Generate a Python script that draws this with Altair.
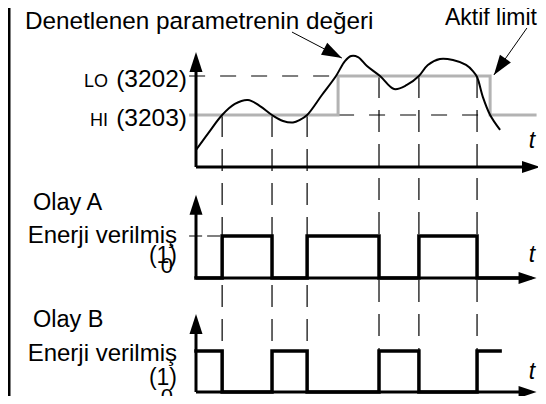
import altair as alt
import pandas as pd
import numpy as np

# ---------------- data (time t in % of the time axis, value v in arbitrary units) -----------
curve_t = [0, 3.8, 7.6, 11.3, 15.1, 18.6, 22.1, 25.3, 28.2, 30.2, 32.3, 36.6, 40.7, 43.3,
           45.1, 47.1, 49.7, 53.5, 57.6, 61.3, 64.8, 67.4, 70.9, 74.7, 78.5, 80.5, 81.7,
           83.4, 85.5, 88.4]
curve_v = [13.1, 26.9, 40, 48.5, 51.5, 46.9, 40, 35.4, 34.2, 36.2, 40, 55.4, 70, 81.5,
           85.4, 84.6, 77.7, 70, 60, 63.1, 70, 78.5, 83.1, 82.3, 78.5, 73.8, 69.2,
           53.8, 40, 28.5]
limit_t = [-2, 41.3, 85.5, 99]
limit_v = [40, 70, 40, 40]
LO_LEVEL = 70      # LO (3202)
HI_LEVEL = 40      # HI (3203)
switch_t = [7.6, 22.1, 32.3, 53.2, 64.8, 81.7]
switch_level = [HI_LEVEL, HI_LEVEL, HI_LEVEL, LO_LEVEL, LO_LEVEL, LO_LEVEL]
event_a_t = [0] + switch_t + [97]
event_a = [0, 1, 0, 1, 0, 1, 0, 0]
event_b_t = [0] + switch_t + [88.4]
event_b = [1, 0, 1, 0, 1, 0, 1, 1]
# annotation arrows (start -> tip) in data units of the top panel
ann_t0 = [27.9, 96.2]
ann_v0 = [103.8, 106.9]
ann_t1 = [42.4, 86.6]
ann_v1 = [83.8, 70.8]

FONT = "Liberation Sans"

# ---------------- scales ----------------
XS = alt.Scale(domain=[0, 100], range=[188, 532], nice=False, zero=False)
Y_TOP = alt.Scale(domain=[0, 70], range=[159, 68], nice=False, zero=False)
Y_A = alt.Scale(domain=[0, 1], range=[270, 228], nice=False, zero=False)
Y_B = alt.Scale(domain=[0, 1], range=[384, 343], nice=False, zero=False)


def X(f):
    return alt.X(f, type="quantitative", scale=XS, axis=None)


def Y(f, sc):
    return alt.Y(f, type="quantitative", scale=sc, axis=None)


RIGHT_HEAD = "M0,0L-2,-0.67L-2,0.67Z"
UP_HEAD = "M0,0L0.65,2L-0.65,2Z"

layers = []

# left border
layers.append(alt.Chart(pd.DataFrame({"a": [0]})).mark_rule(color="black", strokeWidth=3)
              .encode(x=alt.value(1), y=alt.value(0), y2=alt.value(388)))

# vertical dashed switch lines
sw = pd.DataFrame({"t": switch_t, "v": switch_level})
layers.append(alt.Chart(sw).mark_rule(color="black", strokeWidth=1.2, strokeDash=[22, 12])
              .encode(x=X("t"), y=Y("v", Y_TOP), y2=alt.value(343)))

# dashed LO / HI limit lines
lim_d = pd.DataFrame({"t0": [-2, limit_t[1]], "t1": [limit_t[1], limit_t[2]],
                      "v": [LO_LEVEL, HI_LEVEL]})
layers.append(alt.Chart(lim_d).mark_rule(color="black", strokeWidth=1.2, strokeDash=[16, 15])
              .encode(x=X("t0"), x2="t1", y=Y("v", Y_TOP)))

# dashed level line in panel A
layers.append(alt.Chart(pd.DataFrame({"t0": [-2], "t1": [switch_t[0]], "v": [1]}))
              .mark_rule(color="black", strokeWidth=1.2, strokeDash=[13, 5])
              .encode(x=X("t0"), x2="t1", y=Y("v", Y_A)))

# active limit (grey)
layers.append(alt.Chart(pd.DataFrame({"t": limit_t, "v": limit_v}))
              .mark_line(interpolate="step-after", color="#b3b3b3", strokeWidth=3)
              .encode(x=X("t"), y=Y("v", Y_TOP)))

# monitored parameter curve
layers.append(alt.Chart(pd.DataFrame({"t": curve_t, "v": curve_v}))
              .mark_line(interpolate="catmull-rom", color="black", strokeWidth=2)
              .encode(x=X("t"), y=Y("v", Y_TOP)))

# axes for each panel
for sc, ytop, tip in [(Y_TOP, 82, 88.5), (Y_A, 1.55, 1.98), (Y_B, 1.45, 1.9)]:
    xend = 100 if sc is Y_TOP else 99
    ax = pd.DataFrame({"t0": [0, 0], "t1": [xend - 4, 0], "v0": [0, 0], "v1": [0, ytop]})
    layers.append(alt.Chart(ax).mark_rule(color="black", strokeWidth=3)
                  .encode(x=X("t0"), x2="t1", y=Y("v0", sc), y2="v1"))
    layers.append(alt.Chart(pd.DataFrame({"t": [xend], "v": [0]}))
                  .mark_point(shape=RIGHT_HEAD, filled=True, size=324, color="black",
                              opacity=1, strokeWidth=0)
                  .encode(x=X("t"), y=Y("v", sc)))
    layers.append(alt.Chart(pd.DataFrame({"t": [0], "v": [tip]}))
                  .mark_point(shape=UP_HEAD, filled=True, size=400, color="black",
                              opacity=1, strokeWidth=0)
                  .encode(x=X("t"), y=Y("v", sc)))

# event traces
layers.append(alt.Chart(pd.DataFrame({"t": event_a_t, "s": event_a}))
              .mark_line(interpolate="step-after", color="black", strokeWidth=3.5,
                         strokeCap="square")
              .encode(x=X("t"), y=Y("s", Y_A)))
layers.append(alt.Chart(pd.DataFrame({"t": event_b_t, "s": event_b}))
              .mark_line(interpolate="step-after", color="black", strokeWidth=3.5,
                         strokeCap="square")
              .encode(x=X("t"), y=Y("s", Y_B)))

# annotation arrows
px_t, px_v = 3.44, 1.3
for i in range(len(ann_t0)):
    ang = float(np.degrees(np.arctan2(-(ann_v1[i] - ann_v0[i]) * px_v,
                                      (ann_t1[i] - ann_t0[i]) * px_t))) % 360
    layers.append(alt.Chart(pd.DataFrame({"t0": [ann_t0[i]], "t1": [ann_t1[i]],
                                          "v0": [ann_v0[i]], "v1": [ann_v1[i]]}))
                  .mark_rule(color="black", strokeWidth=1)
                  .encode(x=X("t0"), x2="t1", y=Y("v0", Y_TOP), y2="v1"))
    layers.append(alt.Chart(pd.DataFrame({"t": [ann_t1[i]], "v": [ann_v1[i]]}))
                  .mark_point(shape=RIGHT_HEAD, filled=True, size=400, color="black",
                              opacity=1, strokeWidth=0, angle=ang)
                  .encode(x=X("t"), y=Y("v", Y_TOP)))


def label(txt, x, y, size=23, align="left", italic=False):
    return (alt.Chart(pd.DataFrame({"s": [txt]}))
            .mark_text(font=FONT, fontSize=size, align=align, baseline="alphabetic",
                       color="black", fontStyle="italic" if italic else "normal")
            .encode(x=alt.value(x), y=alt.value(y), text="s:N"))


def level_label(txt, level, x, size, dy):
    return (alt.Chart(pd.DataFrame({"s": [txt], "v": [level]}))
            .mark_text(font=FONT, fontSize=size, align="right", baseline="alphabetic",
                       color="black", dy=dy)
            .encode(x=alt.value(x), y=Y("v", Y_TOP), text="s:N"))


layers += [
    label("Denetlenen parametrenin değeri", 17, 20.5, 24.3),
    label("Aktif limit", 437, 17, 23),
    level_label("(3202)", LO_LEVEL, 179, 24.5, 10.7),
    level_label("LO", LO_LEVEL, 100, 18, 10.7),
    level_label("(3203)", HI_LEVEL, 179, 24.5, 10.5),
    level_label("HI", HI_LEVEL, 100, 18, 10.5),
    label("t", 524, 140, 23, "center", True),
    label("Olay A", 25, 202, 23.5),
    label("Enerji verilmiş", 169, 235, 24, "right"),
    label("(1)", 169, 254.6, 23, "right"),
    label("0", 165, 265, 22, "right"),
    label("t", 524, 254, 23, "center", True),
    label("Olay B", 25, 318.7, 23.5),
    label("Enerji verilmiş", 169, 352.7, 24, "right"),
    label("(1)", 169, 377, 23, "right"),
    label("0", 165, 396, 22, "right"),
    label("t", 524, 371, 23, "center", True),
]

chart = (alt.layer(*layers)
         .resolve_scale(y="independent")
         .properties(width=530, height=388, padding=0,
                     autosize=alt.AutoSizeParams(type="none"))
         .configure_view(stroke=None))

chart.save("out.html", embed_options={"renderer": "svg", "actions": False})
